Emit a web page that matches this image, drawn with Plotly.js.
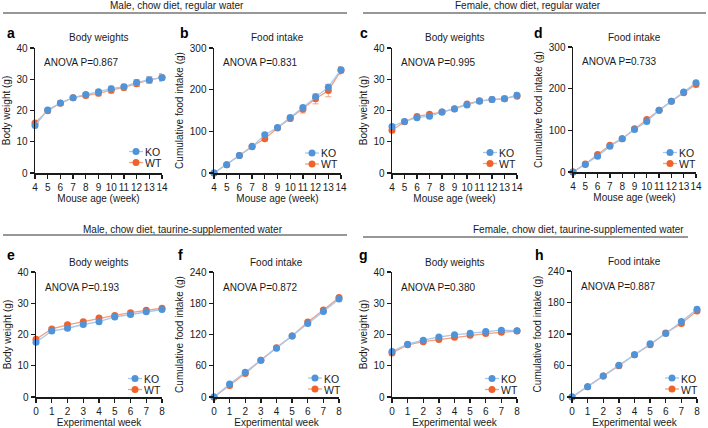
<!DOCTYPE html>
<html>
<head>
<meta charset="utf-8">
<script src="https://cdn.plot.ly/plotly-3.0.1.min.js"></script>
<style>html,body{margin:0;padding:0;background:#fff;}#chart{width:708px;height:428px;}</style>
</head>
<body>
<div id="chart"></div>
<script>
// ---------- DATA ----------
const weeksAge = [4,5,6,7,8,9,10,11,12,13,14];
const weeksExp = [0,1,2,3,4,5,6,7,8];
const ageTicks = [4,5,6,7,8,9,10,11,12,13,14];
const expTicks = [0,1,2,3,4,5,6,7,8];

// a: Male, regular water, body weight
const aKO    = [15.2,20.2,22.4,24.1,25.1,26.0,27.0,27.6,29.0,29.8,30.5];
const aKOerr = [0.7,0.6,0.6,0.5,0.6,0.7,0.8,0.8,0.9,1.0,1.0];
const aWT    = [16.0,19.9,22.3,24.1,24.8,25.5,26.5,27.4,28.6,29.8,30.6];
const aWTerr = [0.6,0.6,0.6,0.6,0.7,0.8,0.9,0.9,0.9,1.1,1.2];
// b: Male, regular water, food intake
const bKO    = [0,20,42,63,92,109,133,157,183,206,248];
const bKOerr = [0,2,2,2,4,3,4,5,5,5,5];
const bWT    = [0,20,42,64,82,108,131,153,178,198,246];
const bWTerr = [0,2,2,3,4,4,6,9,12,15,9];
// c: Female, regular water, body weight
const cKO    = [14.9,16.5,17.7,18.2,19.5,20.5,21.8,23.0,23.5,23.8,24.9];
const cKOerr = [0.6,0.5,0.6,0.6,0.5,0.6,0.6,0.7,0.8,0.8,0.9];
const cWT    = [13.7,16.4,18.1,18.8,19.5,20.6,22.1,23.1,23.5,23.8,24.6];
const cWTerr = [0.5,0.5,0.5,0.5,0.5,0.5,0.5,0.6,0.6,0.6,0.7];
// d: Female, regular water, food intake
const dKO    = [0,18,38,62,80,102,121,148,170,192,214];
const dKOerr = [0,1,2,2,2,3,3,3,3,3,4];
const dWT    = [0,19,42,64,80,104,126,148,170,190,210];
const dWTerr = [0,1,2,2,2,3,3,3,3,3,3];
// e: Male, taurine water, body weight
const eKO    = [17.5,21.1,22.0,23.2,24.1,25.6,26.4,27.3,28.0];
const eKOerr = [0.6,0.6,0.6,0.6,0.6,0.6,0.6,0.6,0.6];
const eWT    = [18.5,21.8,23.1,24.1,25.3,26.1,27.0,27.8,28.4];
const eWTerr = [0.5,0.5,0.5,0.5,0.5,0.5,0.5,0.5,0.5];
// f: Male, taurine water, food intake
const fKO    = [0,24.8,47.7,70.7,93.6,117,141,164,188];
const fKOerr = [0,2,2,2,2,3,3,3,3];
const fWT    = [0,22.3,45.2,70.7,94.8,117,144,167,191];
const fWTerr = [0,2,2,2,2,3,3,3,3];
// g: Female, taurine water, body weight
const gKO    = [14.6,16.9,18.2,19.2,19.9,20.4,21.0,21.4,21.2];
const gKOerr = [0.5,0.4,0.4,0.4,0.4,0.4,0.4,0.4,0.4];
const gWT    = [14.1,16.7,17.7,18.4,19.1,19.8,20.3,20.7,21.1];
const gWTerr = [0.4,0.4,0.4,0.4,0.4,0.4,0.4,0.4,0.4];
// h: Female, taurine water, food intake
const hKO    = [0,19.7,40,60.3,80.6,101.6,121,144,167];
const hKOerr = [0,1,2,2,2,3,3,3,4];
const hWT    = [0,19.7,40,59.7,80.6,99.7,122,140,164];
const hWTerr = [0,1,2,2,2,3,4,4,5];

const anova = ["ANOVA P=0.867","ANOVA P=0.831","ANOVA P=0.995","ANOVA P=0.733",
               "ANOVA P=0.193","ANOVA P=0.872","ANOVA P=0.380","ANOVA P=0.887"];
const letters = ["a","b","c","d","e","f","g","h"];
const panelTitles = ["Body weights","Food intake","Body weights","Food intake",
                     "Body weights","Food intake","Body weights","Food intake"];
const headers = ["Male, chow diet, regular water","Female, chow diet, regular water",
                 "Male, chow diet, taurine-supplemented water","Female, chow diet, taurine-supplemented water"];
const seriesNames = ["KO","WT"];

// ---------- LAYOUT HELPERS ----------
const W = 708, H = 428;
const FONT = "Liberation Sans, Arial, Helvetica, sans-serif";
const FS = 10;
const TXT = "#1a1a1a";
const KO_M = "#4f93d8", KO_L = "#a5c9ee", KO_E = "#9cc3ec";
const WT_M = "#f0622c", WT_L = "#f4a07c", WT_E = "#f3a585";

const panels = [
  {x0:35, x1:162, y0:48, y1:173, ko:aKO, koe:aKOerr, wt:aWT, wte:aWTerr, xs:weeksAge, xr:[4,14], xt:ageTicks, yr:[0,40], yd:10, yt:"Body weight (g)", xtitle:"Mouse age (week)", lgx:-26, lgy:[-21.5,-10.5]},
  {x0:214,x1:341, y0:48, y1:173, ko:bKO, koe:bKOerr, wt:bWT, wte:bWTerr, xs:weeksAge, xr:[4,14], xt:ageTicks, yr:[0,300], yd:100, yt:"Cumulative food intake (g)", xtitle:"Mouse age (week)", lgx:-29, lgy:[-20,-9]},
  {x0:392,x1:517, y0:48, y1:173, ko:cKO, koe:cKOerr, wt:cWT, wte:cWTerr, xs:weeksAge, xr:[4,14], xt:ageTicks, yr:[0,40], yd:10, yt:"Body weight (g)", xtitle:"Mouse age (week)", lgx:-27, lgy:[-20.5,-9.5]},
  {x0:573,x1:696, y0:47, y1:172, ko:dKO, koe:dKOerr, wt:dWT, wte:dWTerr, xs:weeksAge, xr:[4,14], xt:ageTicks, yr:[0,300], yd:100, yt:"Cumulative food intake (g)", xtitle:"Mouse age (week)", lgx:-26, lgy:[-19.5,-8.5]},
  {x0:36, x1:162, y0:272,y1:397, ko:eKO, koe:eKOerr, wt:eWT, wte:eWTerr, xs:weeksExp, xr:[0,8], xt:expTicks, yr:[0,40], yd:10, yt:"Body weight (g)", xtitle:"Experimental week", lgx:-27, lgy:[-18.5,-7.5]},
  {x0:214,x1:339, y0:272,y1:397, ko:fKO, koe:fKOerr, wt:fWT, wte:fWTerr, xs:weeksExp, xr:[0,8], xt:expTicks, yr:[0,240], yd:60, yt:"Cumulative food intake (g)", xtitle:"Experimental week", lgx:-24, lgy:[-19,-8]},
  {x0:392,x1:517, y0:272,y1:397, ko:gKO, koe:gKOerr, wt:gWT, wte:gWTerr, xs:weeksExp, xr:[0,8], xt:expTicks, yr:[0,40], yd:10, yt:"Body weight (g)", xtitle:"Experimental week", lgx:-25, lgy:[-18.5,-7.5]},
  {x0:572,x1:697, y0:271,y1:397, ko:hKO, koe:hKOerr, wt:hWT, wte:hWTerr, xs:weeksExp, xr:[0,8], xt:expTicks, yr:[0,240], yd:60, yt:"Cumulative food intake (g)", xtitle:"Experimental week", lgx:-25, lgy:[-19,-8]}
];

const px = v => v / W;
const py = v => 1 - v / H;

const data = [];
const layout = {
  width: W, height: H,
  margin: {l:0, r:0, t:0, b:0},
  paper_bgcolor: "#fff", plot_bgcolor: "#fff",
  font: {family: FONT, size: FS, color: TXT},
  showlegend: false,
  annotations: [], shapes: []
};

panels.forEach((p, i) => {
  const n = i + 1;
  const xa = n === 1 ? "x" : "x" + n;
  const ya = n === 1 ? "y" : "y" + n;
  // WT first (below), KO on top
  data.push({
    x: p.xs, y: p.wt, xaxis: xa, yaxis: ya, name: seriesNames[1],
    type: "scatter", mode: "lines+markers", cliponaxis: false,
    line: {color: WT_L, width: 1.3},
    marker: {color: WT_M, size: 7, symbol: "circle"},
    error_y: {type: "data", array: p.wte, visible: true, color: WT_E, thickness: 1, width: 3}
  });
  data.push({
    x: p.xs, y: p.ko, xaxis: xa, yaxis: ya, name: seriesNames[0],
    type: "scatter", mode: "lines+markers", cliponaxis: false,
    line: {color: KO_L, width: 1.3},
    marker: {color: KO_M, size: 7, symbol: "circle"},
    error_y: {type: "data", array: p.koe, visible: true, color: KO_E, thickness: 1, width: 3}
  });
  layout["xaxis" + (n === 1 ? "" : n)] = {
    domain: [px(p.x0), px(p.x1)], anchor: ya, range: p.xr,
    tickmode: "array", tickvals: p.xt, ticktext: p.xt.map(String), tickangle: 0,
    ticks: "outside", ticklen: 4, tickwidth: 1.3, tickcolor: TXT,
    showline: true, linecolor: TXT, linewidth: 1.5, showgrid: false, zeroline: false,
    tickfont: {family: FONT, size: FS, color: TXT},
    title: {text: p.xtitle, font: {family: FONT, size: FS, color: TXT}, standoff: 3},
    fixedrange: true
  };
  layout["yaxis" + (n === 1 ? "" : n)] = {
    domain: [py(p.y1), py(p.y0)], anchor: xa, range: p.yr,
    tickmode: "linear", tick0: 0, dtick: p.yd,
    ticks: "outside", ticklen: 4, tickwidth: 1.3, tickcolor: TXT,
    showline: true, linecolor: TXT, linewidth: 1.5, showgrid: false, zeroline: false,
    tickfont: {family: FONT, size: FS, color: TXT},
    title: {text: p.yt, font: {family: FONT, size: FS, color: TXT}, standoff: 4},
    fixedrange: true
  };
  // manual legend (KO, WT)
  const cols = [[KO_L, KO_M], [WT_L, WT_M]];
  seriesNames.forEach((nm, k) => {
    const cx = p.x1 + p.lgx, cy = p.y1 + p.lgy[k];
    layout.shapes.push({type: "line", xref: "paper", yref: "paper",
      x0: px(cx - 7), x1: px(cx + 7), y0: py(cy), y1: py(cy),
      line: {color: cols[k][0], width: 1.3}});
    layout.shapes.push({type: "circle", xref: "paper", yref: "paper",
      x0: px(cx - 3.5), x1: px(cx + 3.5), y0: py(cy - 3.5), y1: py(cy + 3.5),
      fillcolor: cols[k][1], line: {width: 0}});
    layout.annotations.push({xref: "paper", yref: "paper", x: px(cx + 8), y: py(cy),
      text: nm, showarrow: false, xanchor: "left", yanchor: "middle", borderpad: 0,
      height: 9, valign: "middle",
      font: {family: FONT, size: 10.5, color: TXT}});
  });
  // panel title
  layout.annotations.push({
    xref: "paper", yref: "paper", x: px((p.x0 + p.x1) / 2), y: py(p.y0 - 10),
    text: panelTitles[i], showarrow: false, xanchor: "center", yanchor: "middle",
    font: {family: FONT, size: FS, color: TXT}
  });
  // ANOVA
  layout.annotations.push({
    xref: "paper", yref: "paper", x: px(p.x0 + 7), y: py(p.y0 + 15),
    text: anova[i], showarrow: false, xanchor: "left", yanchor: "middle",
    font: {family: FONT, size: FS, color: TXT}
  });
  // letter
  const lx = [5,178,358,532,5,176,357,533][i];
  const ly = [33,33,33,33,255,255,255,255][i];
  layout.annotations.push({
    xref: "paper", yref: "paper", x: px(lx), y: py(ly),
    text: "<b>" + letters[i] + "</b>", showarrow: false, xanchor: "left", yanchor: "middle",
    font: {family: FONT, size: 14, color: "#000"}
  });
});

// section headers
const hdr = [
  {cx:177, ty:6,   lx0:3,   lx1:347, ly:13},
  {cx:528, ty:6,   lx0:363, lx1:706, ly:13},
  {cx:183, ty:229, lx0:3,   lx1:347, ly:235},
  {cx:578, ty:229, lx0:363, lx1:688, ly:237}
];
hdr.forEach((h, i) => {
  layout.annotations.push({
    xref: "paper", yref: "paper", x: px(h.cx), y: py(h.ty),
    text: headers[i], showarrow: false, xanchor: "center", yanchor: "middle",
    font: {family: FONT, size: FS, color: TXT}
  });
  layout.shapes.push({
    type: "line", xref: "paper", yref: "paper",
    x0: px(h.lx0), x1: px(h.lx1), y0: py(h.ly), y1: py(h.ly),
    line: {color: "#333", width: 1.2}
  });
});

Plotly.newPlot("chart", data, layout, {staticPlot: true, displayModeBar: false});
</script>
</body>
</html>
